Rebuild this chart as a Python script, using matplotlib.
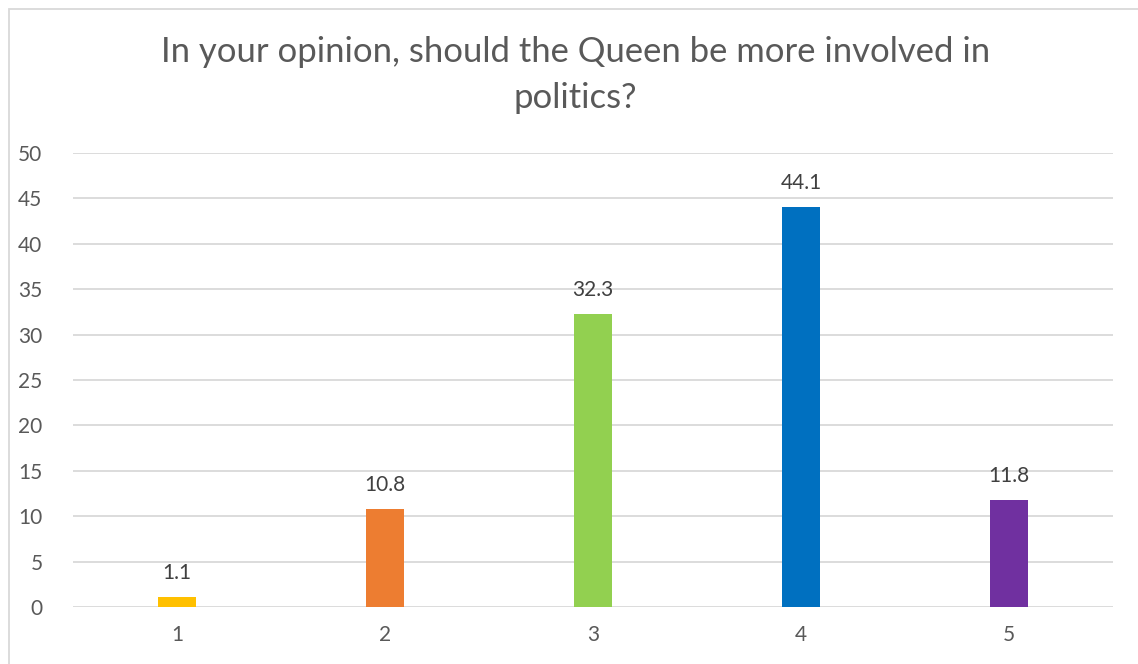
import matplotlib
matplotlib.use("Agg")
import matplotlib.pyplot as plt
from matplotlib.patches import Rectangle

categories = ["1", "2", "3", "4", "5"]
values = [1.1, 10.8, 32.3, 44.1, 11.8]
colors = ["#FFC000", "#ED7D31", "#92D050", "#0070C0", "#7030A0"]
y_ticks = [0, 5, 10, 15, 20, 25, 30, 35, 40, 45, 50]
title = "In your opinion, should the Queen be more involved in\npolitics?"

W, H = 1138, 664
fig = plt.figure(figsize=(W / 100, H / 100), dpi=100)
plt.rcParams["font.family"] = ["Lato", "DejaVu Sans"]

# chart frame (only the top and left edges fall inside the canvas)
fig.patches.append(Rectangle((8.5 / W, -0.1), 1.2, 1.1 - 8.5 / H,
                             transform=fig.transFigure, fill=False,
                             edgecolor="#D9D9D9", linewidth=1.3))

ax = fig.add_axes([73 / W, 1 - 607 / H, (1113 - 73) / W, (607 - 153) / H])
x = list(range(len(categories)))
bars = ax.bar(x, values, width=0.178, color=colors, zorder=3)

ax.set_xlim(-0.5, len(categories) - 0.5)
ax.set_ylim(0, 50)
ax.set_yticks(y_ticks)
ax.set_xticks(x)
ax.set_xticklabels(categories)
ax.yaxis.grid(True, color="#D9D9D9", linewidth=1.3, zorder=0)
ax.set_axisbelow(True)
for s in ax.spines.values():
    s.set_visible(False)
ax.tick_params(axis="both", length=0, labelsize=15, colors="#595959")
ax.tick_params(axis="y", pad=22)
ax.tick_params(axis="x", pad=13)

for b, v in zip(bars, values):
    ax.annotate(f"{v:g}", (b.get_x() + b.get_width() / 2, v),
                xytext=(0, 10), textcoords="offset points",
                ha="center", va="bottom", fontsize=15, color="#404040")

fig.text(575.5 / W, 1 - 75 / H, title, ha="center", va="center",
         fontsize=24.9, color="#595959", linespacing=1.5)

fig.savefig("out.png", dpi=100)
